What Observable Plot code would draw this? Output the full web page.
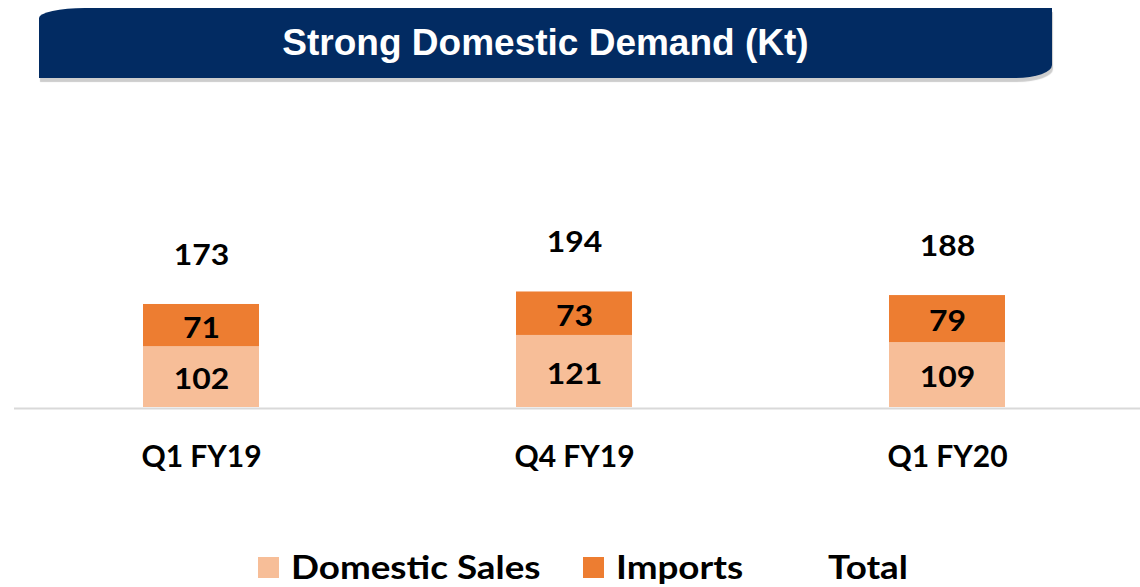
<!DOCTYPE html>
<html>
<head>
<meta charset="utf-8">
<script src="https://cdn.jsdelivr.net/npm/d3@7"></script>
<script src="https://cdn.jsdelivr.net/npm/@observablehq/plot@0.6"></script>
<style>
  html, body { margin: 0; padding: 0; background: #fff; }
  body { width: 1140px; height: 587px; position: relative; overflow: hidden; font-family: Lato, "Open Sans", sans-serif; }
  #banner {
    position: absolute; left: 39px; top: 8px; width: 1013px; height: 70px;
    background: #022b62;
    border-radius: 46px 0 36px 0 / 10px 0 13px 0;
    box-shadow: 1px 4px 1px #cdcdcd;
    color: #fff; font-family: "Liberation Sans", Arial, sans-serif; font-weight: bold;
    font-size: 37px; display: flex; align-items: center; justify-content: center;
  }
  #chart { position: absolute; left: 0; top: 100px; }
  .leg { position: absolute; top: 547px; font-family: Lato, sans-serif; font-weight: bold; font-size: 32px; color: #000; line-height: 40px; white-space: nowrap; transform: scaleX(1.15); transform-origin: left center; }
  .sw { position: absolute; top: 557px; width: 21px; height: 21px; }
</style>
</head>
<body>
<div id="banner">Strong Domestic Demand (Kt)</div>
<div id="chart"></div>
<div id="legend"></div>
<script>
const categories = ["Q1 FY19", "Q4 FY19", "Q1 FY20"];
const domesticSales = [102, 121, 109];
const imports = [71, 73, 79];
const totals = [173, 194, 188];
const seriesNames = ["Domestic Sales", "Imports", "Total"];
const seriesColors = ["#f7be98", "#ed7d31"];

const rows = [];
categories.forEach((c, i) => rows.push({category: c, series: seriesNames[0], value: domesticSales[i]}));
categories.forEach((c, i) => rows.push({category: c, series: seriesNames[1], value: imports[i]}));
const totalRows = categories.map((c, i) => ({category: c, total: totals[i]}));

const font = "Lato, sans-serif";
const chart = Plot.plot({
  width: 1140,
  height: 420,
  marginTop: 20,
  marginBottom: 113,
  marginLeft: 14,
  marginRight: 0,
  style: {fontFamily: font, background: "transparent"},
  x: {domain: categories, range: [14.5, 1133.5], paddingInner: 0.69, paddingOuter: 0.345, axis: null},
  y: {domain: [0, 482], axis: null},
  color: {domain: seriesNames.slice(0, 2), range: seriesColors},
  marks: [
    Plot.barY(rows, Plot.stackY({x: "category", y: "value", fill: "series"})),
    Plot.ruleY([0], {stroke: "#d9d9d9", strokeWidth: 2, dy: 1}),
    Plot.text(rows, Plot.stackY({x: "category", y: "value", text: d => String(d.value), fill: "#000", fontSize: 29, fontWeight: "bold", dy: 3, className: "wide"})),
    Plot.text(totalRows, {x: "category", y: "total", text: d => String(d.total), fill: "#000", fontSize: 29, fontWeight: "bold", dy: -49, className: "wide"}),
    Plot.text(categories, {x: d => d, y: 0, text: d => d, fill: "#000", fontSize: 30, fontWeight: "bold", dy: 50})
  ]
});
document.getElementById("chart").appendChild(chart);

// widen the value labels horizontally (the reference font is stretched)
chart.querySelectorAll(".wide text").forEach(t => {
  const b = t.getBBox();
  const cx = b.x + b.width / 2;
  const tr = t.getAttribute("transform") || "";
  t.setAttribute("transform", `${tr} translate(${cx},0) scale(1.1,1) translate(${-cx},0)`);
});

const legend = document.getElementById("legend");
const legendPos = [
  {sw: 258, tx: 291},
  {sw: 583, tx: 616},
  {sw: null, tx: 828}
];
seriesNames.forEach((name, i) => {
  const p = legendPos[i];
  if (p.sw !== null) {
    const s = document.createElement("div");
    s.className = "sw";
    s.style.left = p.sw + "px";
    s.style.background = seriesColors[i];
    legend.appendChild(s);
  }
  const t = document.createElement("div");
  t.className = "leg";
  t.style.left = p.tx + "px";
  t.textContent = name;
  legend.appendChild(t);
});
</script>
</body>
</html>
